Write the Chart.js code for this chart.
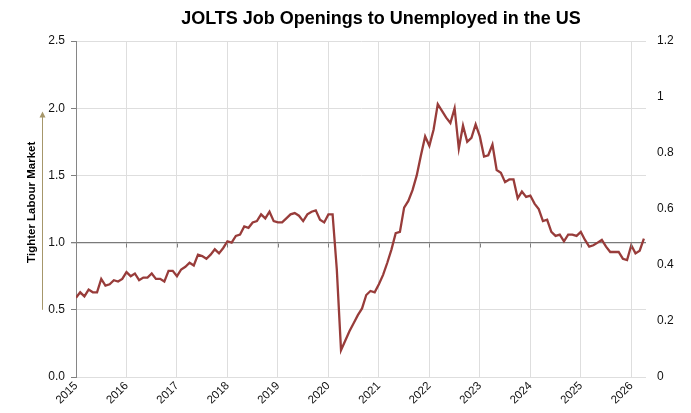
<!DOCTYPE html>
<html>
<head>
<meta charset="utf-8">
<script src="https://cdn.jsdelivr.net/npm/chart.js@4.4.1/dist/chart.umd.min.js"></script>
<style>
  html, body { margin: 0; padding: 0; background: #ffffff; }
  #wrap { width: 691px; height: 413px; position: relative; }
</style>
</head>
<body>
<div id="wrap"><canvas id="chart" width="691" height="413"></canvas></div>
<script>
// JOLTS job openings divided by unemployed persons, monthly from January 2015
const firstYear = 2015;
const ratio = [
  0.59, 0.63, 0.60, 0.65, 0.63, 0.63, 0.73, 0.68, 0.69, 0.72, 0.71, 0.73,
  0.78, 0.75, 0.77, 0.72, 0.74, 0.74, 0.77, 0.73, 0.73, 0.71, 0.79, 0.79,
  0.75, 0.80, 0.82, 0.85, 0.83, 0.91, 0.90, 0.88, 0.91, 0.95, 0.92, 0.96,
  1.01, 1.00, 1.05, 1.06, 1.12, 1.11, 1.15, 1.16, 1.21, 1.18, 1.23, 1.16,
  1.15, 1.15, 1.18, 1.21, 1.22, 1.20, 1.16, 1.21, 1.23, 1.24, 1.17, 1.15,
  1.21, 1.21, 0.80, 0.20, 0.27, 0.34, 0.40, 0.46, 0.51, 0.61, 0.64, 0.63,
  0.69, 0.76, 0.85, 0.95, 1.07, 1.08, 1.26, 1.31, 1.39, 1.50, 1.65, 1.79,
  1.72, 1.84, 2.03, 1.98, 1.93, 1.89, 2.00, 1.70, 1.87, 1.75, 1.78, 1.88,
  1.79, 1.64, 1.65, 1.73, 1.54, 1.52, 1.45, 1.47, 1.47, 1.33, 1.38, 1.34,
  1.35, 1.29, 1.25, 1.16, 1.17, 1.08, 1.05, 1.06, 1.01, 1.06, 1.06, 1.05,
  1.08, 1.02, 0.97, 0.98, 1.00, 1.02, 0.97, 0.93, 0.93, 0.93, 0.88, 0.87,
  0.98, 0.92, 0.94, 1.03
];
const yearLabels = ['2015', '2016', '2017', '2018', '2019', '2020',
                    '2021', '2022', '2023', '2024', '2025', '2026'];
const leftTicks = [0, 0.5, 1.0, 1.5, 2.0, 2.5];
const rightTicks = [0, 0.2, 0.4, 0.6, 0.8, 1.0, 1.2];
const balanceLevel = 1.0;

const titleText = 'JOLTS Job Openings to Unemployed in the US';
const axisTitleText = 'Tighter Labour Market';

const points = ratio.map((v, i) => ({ x: i, y: v }));
const FONT = "'Liberation Sans', Arial, sans-serif";

// Title, rotated axis caption, arrow and the ticks along the 1.0 line
const decorations = {
  id: 'decorations',
  afterDraw(chart) {
    const { ctx, chartArea } = chart;
    const xs = chart.scales.x;
    const ys = chart.scales.y;
    ctx.save();

    // chart title
    ctx.fillStyle = '#000000';
    ctx.font = "bold 18px " + FONT;
    ctx.textAlign = 'center';
    ctx.textBaseline = 'alphabetic';
    ctx.fillText(titleText, (chartArea.left + chartArea.right) / 2 + 20, 24);

    // rotated caption beside the value axis
    const capX = chartArea.left - 44.5;
    const capY = ys.getPixelForValue(1.3);
    ctx.translate(capX, capY);
    ctx.rotate(-Math.PI / 2);
    ctx.font = "bold 11.5px " + FONT;
    ctx.textBaseline = 'middle';
    ctx.fillText(axisTitleText, 0, 0);
    ctx.setTransform(1, 0, 0, 1, 0, 0);

    // upward arrow
    const ax = chartArea.left - 34;
    const yFrom = ys.getPixelForValue(0.5);
    const yTo = ys.getPixelForValue(1.975);
    ctx.strokeStyle = '#a6976b';
    ctx.fillStyle = '#a6976b';
    ctx.lineWidth = 1;
    ctx.beginPath();
    ctx.moveTo(ax + 0.5, yFrom);
    ctx.lineTo(ax + 0.5, yTo + 5);
    ctx.stroke();
    ctx.beginPath();
    ctx.moveTo(ax + 0.5, yTo);
    ctx.lineTo(ax - 2.5, yTo + 6);
    ctx.lineTo(ax + 3.5, yTo + 6);
    ctx.closePath();
    ctx.fill();

    // small year ticks hanging from the 1.0 line
    const yLine = Math.round(ys.getPixelForValue(balanceLevel)) + 0.5;
    ctx.strokeStyle = '#7f7f7f';
    ctx.lineWidth = 1;
    xs.ticks.forEach(t => {
      const px = Math.round(xs.getPixelForValue(t.value)) + 0.5;
      ctx.beginPath();
      ctx.moveTo(px, yLine);
      ctx.lineTo(px, yLine + 4);
      ctx.stroke();
    });
    ctx.restore();
  }
};

new Chart(document.getElementById('chart'), {
  type: 'line',
  data: {
    datasets: [{
      data: points,
      borderColor: '#983c3a',
      borderWidth: 2.3,
      pointRadius: 0,
      tension: 0,
      fill: false,
      yAxisID: 'y'
    }]
  },
  options: {
    responsive: false,
    animation: false,
    events: [],
    layout: { padding: { top: 41, left: 0, right: 0, bottom: 0 } },
    plugins: {
      legend: { display: false },
      title: { display: false },
      tooltip: { enabled: false }
    },
    scales: {
      x: {
        type: 'linear',
        min: 0,
        max: 135.5,
        afterBuildTicks(scale) {
          scale.ticks = yearLabels.map((_, i) => ({ value: i * 12 }));
        },
        afterFit(scale) { scale.height = 36; },
        ticks: {
          autoSkip: false,
          maxRotation: 45,
          minRotation: 45,
          padding: 2,
          color: '#111111',
          font: { family: FONT, size: 11.5 },
          callback: (v, i) => yearLabels[i]
        },
        grid: { color: '#dedede', lineWidth: 1, drawTicks: false },
        border: { display: false }
      },
      y: {
        position: 'left',
        min: leftTicks[0],
        max: leftTicks[leftTicks.length - 1],
        afterBuildTicks(scale) {
          scale.ticks = leftTicks.map(v => ({ value: v }));
        },
        afterFit(scale) { scale.width = 76; },
        ticks: {
          padding: 6,
          color: '#111111',
          font: { family: FONT, size: 12 },
          callback: v => v.toFixed(1)
        },
        grid: {
          color: c => (c.tick && c.tick.value === balanceLevel) ? '#7a7a7a' : '#dedede',
          lineWidth: c => (c.tick && c.tick.value === balanceLevel) ? 1.3 : 1,
          tickColor: '#7f7f7f',
          tickLength: 5
        },
        border: { display: true, color: '#868686', width: 1 }
      },
      y2: {
        position: 'right',
        min: rightTicks[0],
        max: rightTicks[rightTicks.length - 1],
        afterBuildTicks(scale) {
          scale.ticks = rightTicks.map(v => ({ value: v }));
        },
        afterFit(scale) { scale.width = 45; },
        ticks: {
          padding: 3,
          color: '#111111',
          font: { family: FONT, size: 12 },
          callback: v => String(parseFloat(v.toFixed(1)))
        },
        grid: { display: false },
        border: { display: false }
      }
    }
  },
  plugins: [decorations]
});
</script>
</body>
</html>
